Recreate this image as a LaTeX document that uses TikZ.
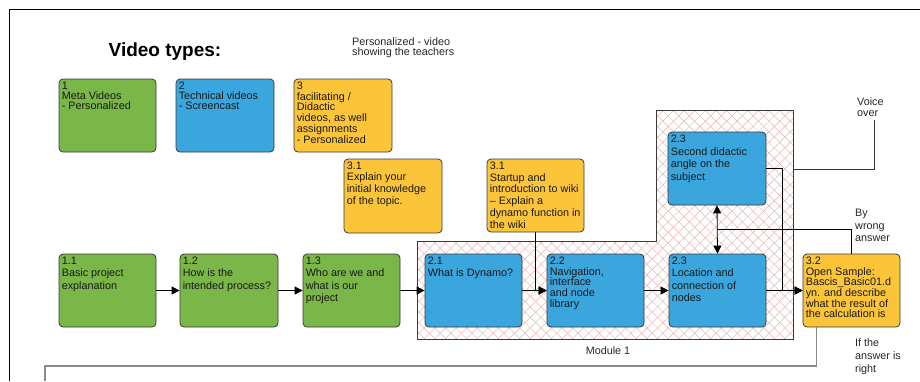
\documentclass[tikz,border=0pt]{standalone}
\usepackage{fontspec}
\setmainfont{Liberation Sans}
\usetikzlibrary{arrows.meta,patterns.meta,calc}
\definecolor{cgreen}{HTML}{7AB648}
\definecolor{cblue}{HTML}{3AA6DD}
\definecolor{cyellow}{HTML}{FCC438}
\definecolor{boxline}{HTML}{3A3A3A}
\definecolor{hatchc}{HTML}{ECB4B4}
\definecolor{fbgray}{HTML}{8A8A8A}
\begin{document}
\begin{tikzpicture}[x=1pt,y=-1pt,
  box/.style={draw=boxline, rounded corners=4pt, minimum width=97pt, minimum height=73pt, inner sep=0pt, line width=0.8pt},
  gbox/.style={box, fill=cgreen},
  bbox/.style={box, fill=cblue},
  ybox/.style={box, fill=cyellow},
  txt/.style={anchor=north west, align=left, inner xsep=3pt, inner ysep=3pt, text=black!90, font=\fontsize{10.8pt}{#1pt}\selectfont},
  txt/.default=10.7,
  lbl/.style={anchor=north west, align=left, inner sep=0pt, text=black!85, font=\fontsize{10.8pt}{#1pt}\selectfont},
  lbl/.default=10.5,
  conn/.style={draw=black, line width=0.8pt},
  arr/.style={conn, -{Triangle[length=8pt,width=8pt]}},
  dblarr/.style={conn, {Triangle[length=8pt,width=8pt]}-{Triangle[length=8pt,width=8pt]}}
]
\useasboundingbox (0,0) rectangle (920,381);

% outer frame
\draw[line width=1.4pt, black] (9.5,381) -- (9.5,9.5) -- (920,9.5);

% title and notes
\node[font=\fontsize{19pt}{22pt}\selectfont\bfseries, inner sep=0pt] (title) at (165,52) {Video types:};
\node[lbl=10.3] (pers) at (352,37.5) {Personalized - video\\showing the teachers};

% module 1 hatched region
\path[preaction={fill=white},
      preaction={pattern={Lines[angle=45,distance=7.5pt,line width=0.5pt]}, pattern color=hatchc},
      preaction={pattern={Lines[angle=-45,distance=7.5pt,line width=0.5pt]}, pattern color=hatchc},
      draw=boxline, line width=0.8pt]
  (417,241) -- (656,241) -- (656,110) -- (793,110) -- (793,339) -- (417,339) -- cycle;
\node[font=\fontsize{10.8pt}{12pt}\selectfont, inner sep=0pt, text=black!85] (mod) at (608,351) {Module 1};
\coordinate (modR) at (793,169);

% top row
\node[gbox] (b1) at (107.5,115.5) {};
\node[txt=10.3] (t1) at (b1.north west) {1\\Meta Videos\\- Personalized};
\node[bbox, minimum width=98pt] (b2) at (225,115.5) {};
\node[txt=10.3] (t2) at (b2.north west) {2\\Technical videos\\- Screencast};
\node[ybox, minimum width=98pt] (b3) at (343,115.5) {};
\node[txt=10.8] (t3) at (b3.north west) {3\\facilitating /\\Didactic\\videos, as well\\assignments\\- Personalized};

\node[ybox, minimum width=98pt, minimum height=74pt] (b31a) at (393,196) {};
\node[txt=11.6] (t31a) at (b31a.north west) {3.1\\Explain your\\initial knowledge\\of the topic.};
\node[ybox] (b31b) at (535.5,195.5) {};
\node[txt=11.8] (t31b) at (b31b.north west) {3.1\\Startup and\\introduction to wiki\\– Explain a\\dynamo function in\\the wiki};

\node[bbox, minimum width=98pt] (b23u) at (717,168.5) {};
\node[txt=12.7] (t23u) at (b23u.north west) {2.3\\Second didactic\\angle on the\\subject};

% bottom row
\node[gbox] (b11) at (107.5,290.5) {};
\node[txt=12.5] (t11) at (b11.north west) {1.1\\Basic project\\explanation};
\node[gbox, minimum width=98pt] (b12) at (229,290.5) {};
\node[txt=12.5] (t12) at (b12.north west) {1.2\\How is the\\intended process?};
\node[gbox] (b13) at (351.5,290.5) {};
\node[txt=12.5] (t13) at (b13.north west) {1.3\\Who are we and\\what is our\\project};
\node[bbox] (b21) at (473.5,290.5) {};
\node[txt=12.5] (t21) at (b21.north west) {2.1\\What is Dynamo?};
\node[bbox] (b22) at (595.5,290.5) {};
\node[txt=10.7] (t22) at (b22.north west) {2.2\\Navigation,\\interface\\and node\\library};
\node[bbox] (b23l) at (717.5,290.5) {};
\node[txt=12.5] (t23l) at (b23l.north west) {2.3\\Location and\\connection of\\nodes};
\node[ybox] (b32) at (851.5,290.5) {};
\node[txt=10.7] (t32) at (b32.north west) {3.2\\Open Sample:\\Bascis\_Basic01.d\\yn. and describe\\what the result of\\the calculation is};

% side labels
\node[lbl=11] (voice) at (857,97) {Voice\\over};
\node[lbl=12.5] (wrong) at (855,209) {By\\wrong\\answer};
\node[lbl=13] (right) at (855,338) {If the\\answer is\\right};

% connectors
\draw[arr] (b11.east) -- (b12.west);
\draw[arr] (b12.east) -- (b13.west);
\draw[arr] (b13.east) -- (b21.west);
\draw[arr] (b21.east) -- (b22.west);
\draw[arr] (b31b.south) |- (b22.west);
\draw[arr] (b22.east) -- (b23l.west);
\draw[arr] (b23l.east) -- (b32.west);
\draw[arr] (b23u.east) -| ($(b32.west)+(-20,0)$) -- (b32.west);
\draw[dblarr] (b23u.south) -- (b23l.north);
\coordinate (wj) at ($(b23u.south)!0.5!(b23l.north)$);
\draw[conn] (b32.north) |- (wj);
\draw[conn, draw=black!80] (modR) -| ([xshift=4pt,yshift=-4pt]voice.south);
\coordinate (fbc) at (45,366);
\coordinate (fbe) at (45,381);
\draw[draw=fbgray, line width=1.2pt] ($(b32.south west)+(14,0)$) |- (fbc) -- (fbe);
\end{tikzpicture}
\end{document}
